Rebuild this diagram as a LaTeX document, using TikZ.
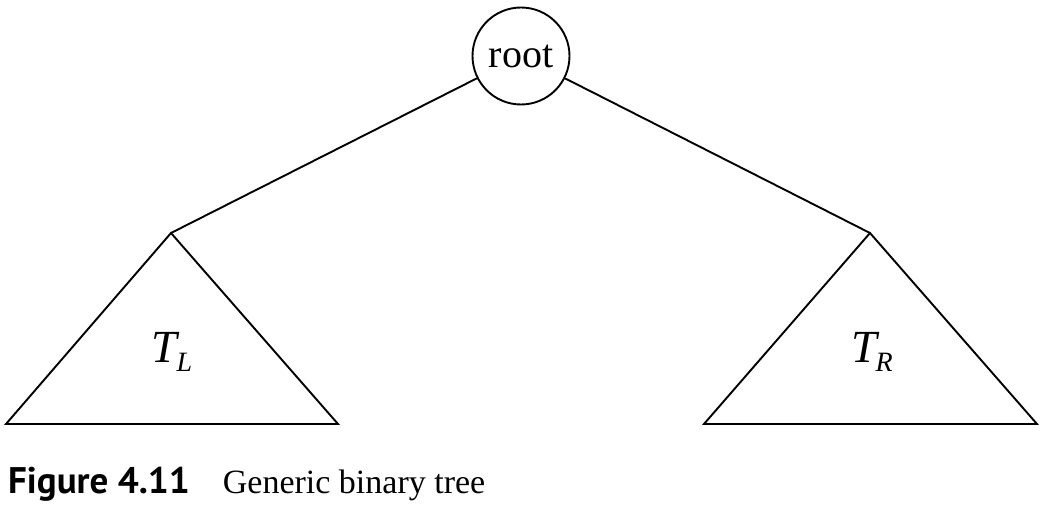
\documentclass[tikz,border=0pt]{standalone}
\usepackage{fontspec}
\setmainfont{Liberation Serif}
\newfontfamily\capsans{PT Sans}
\newcommand{\subtree}[1]{{\fontsize{46}{48}\selectfont\itshape T\kern-1pt\raisebox{-9pt}{\fontsize{28}{30}\selectfont #1}}}
\begin{document}
\begin{tikzpicture}[x=1pt,y=-1pt,
  edge/.style={line width=1.9pt},
  tri/.style={line width=1.9pt, line join=miter},
  lbl/.style={inner sep=0pt}]
\useasboundingbox (0,0) rectangle (1042,508);
\node[circle, draw, line width=1.9pt, minimum size=97pt, inner sep=0pt,
  font=\fontsize{40}{44}\selectfont] (root) at (521,56) {root};
\coordinate (la) at (171,233);
\coordinate (ll) at (6,424);
\coordinate (lr) at (338,424);
\coordinate (ra) at (870,233);
\coordinate (rl) at (704,424);
\coordinate (rr) at (1037,424);
\draw[tri] (la) -- (ll) -- (lr) -- cycle;
\draw[tri] (ra) -- (rl) -- (rr) -- cycle;
\draw[edge] (root) -- (la);
\draw[edge] (root) -- (ra);
\node[lbl] (tl) at (172,352) {\subtree{L}};
\node[lbl] (tr) at (872,352) {\subtree{R}};
\node[anchor=base west, inner sep=0pt] (cap) at (8,493)
  {{\capsans\bfseries\fontsize{37}{40}\selectfont Figure 4.11}\hspace{33pt}{\fontsize{34}{40}\selectfont Generic binary tree}};
\end{tikzpicture}
\end{document}
